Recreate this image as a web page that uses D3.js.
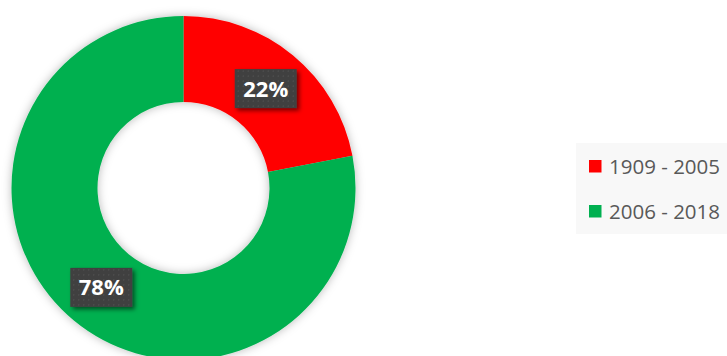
<!DOCTYPE html>
<html>
<head>
<meta charset="utf-8">
<script src="https://d3js.org/d3.v7.min.js"></script>
<style>
  html, body { margin: 0; padding: 0; background: #ffffff; }
  svg { display: block; }
</style>
</head>
<body>
<svg id="chart" width="727" height="356"></svg>
<script>
// Share of records by period
const categories = ["1909 - 2005", "2006 - 2018"];
const values = [22, 78];
const colors = ["#ff0000", "#00b050"];

const W = 727, H = 356;
const cx = 183.5, cy = 188;
const outerR = 172, innerR = 86;

const svg = d3.select("#chart");
const defs = svg.append("defs");

// Soft halo around the ring
const ringShadow = defs.append("filter").attr("id", "ringShadow")
  .attr("x", "-20%").attr("y", "-20%").attr("width", "140%").attr("height", "140%");
ringShadow.append("feDropShadow")
  .attr("dx", 0).attr("dy", 0).attr("stdDeviation", 5)
  .attr("flood-color", "#000").attr("flood-opacity", 0.28);

// Drop shadow under the value boxes
const boxShadow = defs.append("filter").attr("id", "boxShadow")
  .attr("x", "-30%").attr("y", "-30%").attr("width", "160%").attr("height", "160%");
boxShadow.append("feDropShadow")
  .attr("dx", 2.5).attr("dy", 2.5).attr("stdDeviation", 2)
  .attr("flood-color", "#000").attr("flood-opacity", 0.55);

// Dotted texture for the value boxes
const pat = defs.append("pattern").attr("id", "dots")
  .attr("patternUnits", "userSpaceOnUse").attr("width", 5).attr("height", 5);
pat.append("rect").attr("width", 5).attr("height", 5).attr("fill", "#404040");
pat.append("rect").attr("x", 2).attr("y", 2).attr("width", 1).attr("height", 1).attr("fill", "#5c5c5c");

const color = d3.scaleOrdinal().domain(categories).range(colors);

const pie = d3.pie().sort(null).value((d, i) => values[i]);
const arcs = pie(categories);
const arc = d3.arc().innerRadius(innerR).outerRadius(outerR);
const total = d3.sum(values);

const g = svg.append("g").attr("transform", `translate(${cx},${cy})`);

g.append("g").attr("filter", "url(#ringShadow)")
  .selectAll("path").data(arcs).join("path")
  .attr("d", arc)
  .attr("fill", d => color(d.data));

// Value labels at slice centroids
const fmt = d3.format(".0%");
const labels = g.selectAll("g.lbl").data(arcs).join("g")
  .attr("class", "lbl")
  .attr("transform", d => `translate(${arc.centroid(d)})`);

const boxW = 62, boxH = 39;
labels.append("rect")
  .attr("x", -boxW / 2).attr("y", -boxH / 2)
  .attr("width", boxW).attr("height", boxH)
  .attr("fill", "url(#dots)")
  .attr("filter", "url(#boxShadow)");
labels.append("text")
  .attr("text-anchor", "middle")
  .attr("dy", "0.36em")
  .attr("fill", "#ffffff")
  .attr("font-family", "'Open Sans', sans-serif")
  .attr("font-weight", 700)
  .attr("font-size", 22)
  .text(d => fmt(d.value / total));

// Legend
const legend = svg.append("g");
legend.append("rect")
  .attr("x", 576).attr("y", 143).attr("width", W - 576).attr("height", 91)
  .attr("fill", "#f8f8f8");

const items = legend.selectAll("g.item").data(categories).join("g")
  .attr("class", "item")
  .attr("transform", (d, i) => `translate(589,${160 + i * 45})`);
items.append("rect")
  .attr("width", 12.5).attr("height", 12.5)
  .attr("fill", d => color(d));
items.append("text")
  .attr("x", 20).attr("y", 13.5)
  .attr("fill", "#595959")
  .attr("font-family", "'Open Sans', sans-serif")
  .attr("font-size", 20.5)
  .text(d => d);
</script>
</body>
</html>
